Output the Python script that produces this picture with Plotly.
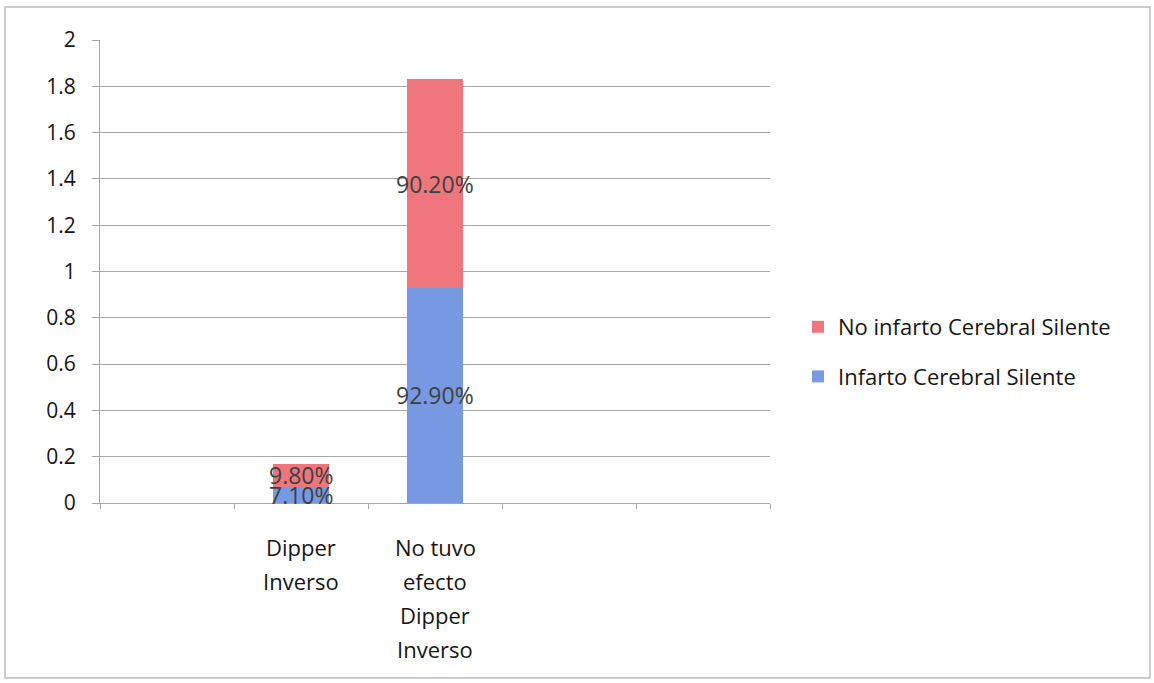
import plotly.graph_objects as go

# Category slots on the x axis (blank slots keep the original spacing)
categories = ["", "Dipper Inverso", "No tuvo efecto Dipper Inverso", " ", "  "]
bar_categories = ["Dipper Inverso", "No tuvo efecto Dipper Inverso"]
category_lines = [["Dipper", "Inverso"], ["No tuvo", "efecto", "Dipper", "Inverso"]]

# Series values
infarto = [0.071, 0.929]
no_infarto = [0.098, 0.902]

series_names = ["Infarto Cerebral Silente", "No infarto Cerebral Silente"]
y_ticks = [0, 0.2, 0.4, 0.6, 0.8, 1, 1.2, 1.4, 1.6, 1.8, 2]

BLUE = "#7799E1"
RED = "#EE767C"
GRID = "#a6a6a6"
FONT = "Open Sans"
TEXT = "#151515"

W, H = 1154, 683
ML, MR, MT, MB = 100, 384, 40, 180

fig = go.Figure()
fig.add_trace(go.Bar(x=bar_categories, y=infarto, name=series_names[0],
                     marker=dict(color=BLUE, line=dict(width=0)),
                     legendgroup="a", legendrank=2))
fig.add_trace(go.Bar(x=bar_categories, y=no_infarto, name=series_names[1],
                     marker=dict(color=RED, line=dict(width=0)),
                     legendgroup="b", legendrank=1))

# Percentage labels centred in each stacked segment
annotations = []
for cat, lo, hi in zip(bar_categories, infarto, no_infarto):
    annotations.append(dict(x=cat, y=lo / 2, text=f"{lo * 100:.2f}%", showarrow=False,
                            font=dict(family=FONT, size=23, color="#404040")))
    annotations.append(dict(x=cat, y=lo + hi / 2, text=f"{hi * 100:.2f}%", showarrow=False,
                            font=dict(family=FONT, size=23, color="#404040")))

# Multi-line category labels under the axis, with wide line spacing
for cat, lines in zip(bar_categories, category_lines):
    for i, line in enumerate(lines):
        annotations.append(dict(x=cat, y=0, yref="paper", text=line, showarrow=False,
                                yanchor="middle", yshift=-44 - 34 * i,
                                font=dict(family=FONT, size=22, color=TEXT)))

pw = W - ML - MR
ph = H - MT - MB


def px_x(p):
    return (p - ML) / pw


def px_y(p):
    return (H - MB - p) / ph


fig.update_layout(
    width=W, height=H, autosize=False,
    margin=dict(l=ML, r=MR, t=MT, b=MB, pad=0),
    paper_bgcolor="white", plot_bgcolor="white",
    barmode="stack", bargap=0.58,
    font=dict(family=FONT, size=20, color=TEXT),
    showlegend=True,
    legend=dict(x=px_x(798), y=px_y(306), xanchor="left", yanchor="top",
                traceorder="grouped", tracegroupgap=18,
                font=dict(family=FONT, size=22, color=TEXT),
                bgcolor="rgba(0,0,0,0)", itemwidth=30),
    annotations=annotations,
    shapes=[dict(type="rect", xref="paper", yref="paper",
                 x0=px_x(5), x1=px_x(1150), y0=px_y(678), y1=px_y(7),
                 line=dict(color="#bdbdbd", width=1.5), layer="below")],
)

fig.update_xaxes(
    type="category", categoryorder="array", categoryarray=categories,
    range=[-0.5, len(categories) - 0.5],
    showgrid=False, showline=True, linecolor=GRID, linewidth=1,
    ticks="outside", tickson="boundaries", ticklen=5, tickcolor=GRID,
    showticklabels=False,
)
fig.update_yaxes(
    range=[0, 2], tickvals=y_ticks, ticktext=[f"{v:g}" for v in y_ticks],
    showgrid=True, gridcolor=GRID, gridwidth=1,
    showline=True, linecolor=GRID, linewidth=1,
    ticks="outside", ticklen=7, tickcolor=GRID,
    ticklabelstandoff=12,
    tickfont=dict(family=FONT, size=21, color=TEXT),
    zeroline=False,
)

fig.write_html("out.html")
